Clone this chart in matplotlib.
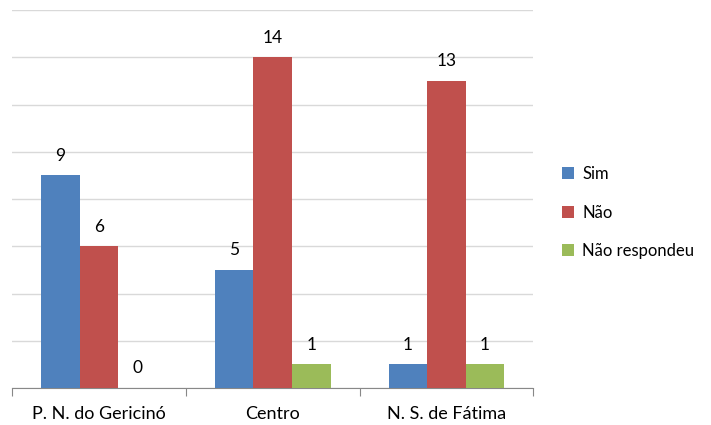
import numpy as np
import matplotlib.pyplot as plt

plt.rcParams['font.family'] = ['Lato', 'DejaVu Sans']

categories = ['P. N. do Gericinó', 'Centro', 'N. S. de Fátima']
series_names = ['Sim', 'Não', 'Não respondeu']
sim = [9, 5, 1]
nao = [6, 14, 13]
nao_resp = [0, 1, 1]
colors = ['#4F81BD', '#C0504D', '#9BBB59']

fig = plt.figure(figsize=(7.11, 4.25), dpi=100)
ax = fig.add_axes([0.017, 0.087, 0.733, 0.889])

x = np.arange(len(categories))
w = 0.222
for i, (vals, name) in enumerate(zip([sim, nao, nao_resp], series_names)):
    pos = x + (i - 1) * w
    bars = ax.bar(pos, vals, w, color=colors[i], label=name, zorder=3)
    for b, v in zip(bars, vals):
        ax.text(b.get_x() + b.get_width() / 2, v + 0.5, str(v),
                ha='center', va='bottom', fontsize=12.5)

ax.set_xlim(-0.5, len(categories) - 0.5)
ax.set_ylim(0, 16)
ax.set_yticks(range(0, 17, 2))
ax.yaxis.grid(True, color='#D9D9D9', linewidth=1, zorder=0)
ax.tick_params(axis='y', left=False, labelleft=False)

# category boundary ticks
ax.set_xticks(np.arange(-0.5, len(categories), 1.0))
ax.set_xticklabels([])
ax.set_xticks(x, minor=True)
ax.set_xticklabels(categories, minor=True, fontsize=13)
ax.tick_params(axis='x', which='major', length=6, color='#888888', direction='out')
ax.tick_params(axis='x', which='minor', length=0, pad=13)

for s in ['top', 'right', 'left']:
    ax.spines[s].set_visible(False)
ax.spines['bottom'].set_color('#888888')

leg = fig.legend(loc='center left', bbox_to_anchor=(0.77, 0.50), frameon=False,
                 fontsize=12, handlelength=0.7, handleheight=0.7,
                 labelspacing=1.35, handletextpad=0.5)

plt.savefig('out.png', dpi=100)
